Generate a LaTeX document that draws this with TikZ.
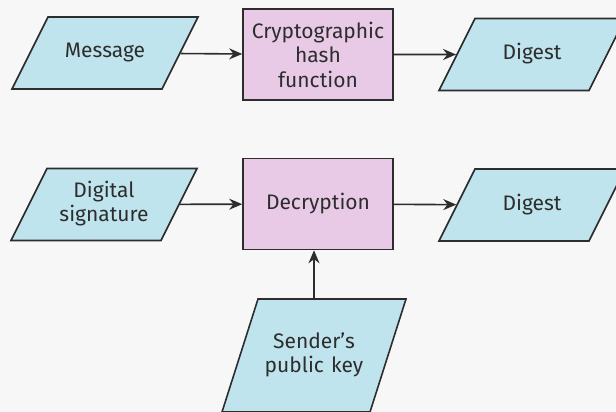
\documentclass[tikz,border=0pt]{standalone}
\usepackage{fontspec}
\setmainfont{Fira Sans}
\usetikzlibrary{shapes.geometric, arrows.meta, positioning}
\definecolor{datablue}{RGB}{192,228,238}
\definecolor{procpink}{RGB}{232,202,230}
\definecolor{inkgrey}{RGB}{45,45,45}

\begin{document}
\begin{tikzpicture}[
    x=1pt, y=-1pt,
    font=\fontsize{21}{24.5}\selectfont,
    process/.style={rectangle, draw=inkgrey, fill=procpink, line width=1.6pt, text=inkgrey, text width=140pt, align=center, minimum width=150pt, minimum height=91pt, inner sep=0pt},
    data/.style={trapezium, trapezium left angle=63.43, trapezium right angle=116.57, draw=inkgrey, fill=datablue, line width=1.6pt, text=inkgrey, align=center, text width=114pt, text height=15pt, text depth=5pt, inner xsep=0pt, inner ysep=26pt},
    twoline/.style={text depth=29.5pt, inner ysep=13.75pt},
    keydata/.style={data, twoline, trapezium left angle=72.33, trapezium right angle=107.67, text width=112pt, inner ysep=34.25pt},
    arrow/.style={line width=1.6pt, draw=inkgrey, -{Stealth[length=13pt, width=11pt]}}
]
\path[use as bounding box, clip] (0,0) rectangle (616,412);
\fill[black!3] (0,0) rectangle (616,412);

% Nodes
\node (hash) [process] at (318,54.5) {Cryptographic\\hash\\function};
\node (message) [data] at (105,53) {Message};
\node (digest) [data] at (532,54.5) {Digest};

\node (decrypt) [process] at (318,204) {Decryption};
\node (signature) [data, twoline] at (104,204.5) {Digital\\signature};
\node (digestb) [data] at (532,205) {Digest};
\node (pubkey) [keydata] at (314,355.5) {Sender’s\\public key};

% Arrows
\draw [arrow] (message) -- (hash);
\draw [arrow] (hash) -- (digest);

\draw [arrow] (signature) -- (decrypt);
\draw [arrow] (decrypt) -- (digestb);
\draw [arrow] (pubkey) -- (pubkey |- decrypt.south);

\end{tikzpicture}
\end{document}
